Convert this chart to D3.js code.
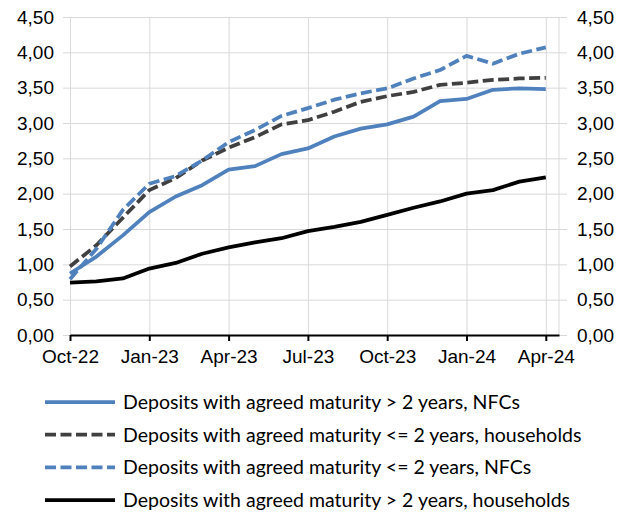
<!DOCTYPE html>
<html lang="en">
<head>
    <script src="https://d3js.org/d3.v7.min.js"></script>
    <style>
        body {
            margin: 0;
            background: #fff;
            font-family: Lato, 'Noto Sans', Arial, sans-serif;
        }
        .grid line {
            stroke: #d9d9d9;
            stroke-width: 1px;
        }
        .grid path {
            display: none;
        }
        .axis text {
            font-size: 19px;
            fill: #000;
        }
        .legend text {
            font-size: 19.5px;
            fill: #000;
        }
    </style>
</head>
<body>
<script>
    // months Oct-22 .. Apr-24
    var months = ["Oct-22","Nov-22","Dec-22","Jan-23","Feb-23","Mar-23","Apr-23","May-23","Jun-23",
                  "Jul-23","Aug-23","Sep-23","Oct-23","Nov-23","Dec-23","Jan-24","Feb-24","Mar-24","Apr-24"];
    var xTickLabels = ["Oct-22","Jan-23","Apr-23","Jul-23","Oct-23","Jan-24","Apr-24"];
    var yTicks = [0, 0.5, 1, 1.5, 2, 2.5, 3, 3.5, 4, 4.5];

    var nfcLong = [0.87, 1.11, 1.41, 1.74, 1.96, 2.12, 2.34, 2.39, 2.56, 2.64, 2.81, 2.92, 2.98, 3.09, 3.31, 3.34, 3.47, 3.49, 3.48];
    var hhShort = [0.97, 1.27, 1.66, 2.05, 2.22, 2.47, 2.65, 2.80, 2.98, 3.04, 3.16, 3.30, 3.38, 3.44, 3.54, 3.57, 3.61, 3.63, 3.64];
    var nfcShort = [0.79, 1.22, 1.77, 2.14, 2.25, 2.47, 2.73, 2.90, 3.10, 3.21, 3.33, 3.42, 3.49, 3.63, 3.75, 3.95, 3.84, 3.98, 4.07];
    var hhLong = [0.74, 0.76, 0.80, 0.94, 1.02, 1.15, 1.24, 1.31, 1.37, 1.47, 1.53, 1.60, 1.70, 1.80, 1.89, 2.00, 2.05, 2.17, 2.23];

    var seriesNames = ["Deposits with agreed maturity > 2 years, NFCs",
                       "Deposits with agreed maturity <= 2 years, households",
                       "Deposits with agreed maturity <= 2 years, NFCs",
                       "Deposits with agreed maturity > 2 years, households"];
    var seriesColors = ["#4f81bd", "#404040", "#4f81bd", "#000000"];
    var seriesDash = [null, "11,4.5", "11,4.5", null];
    var seriesValues = [nfcLong, hhShort, nfcShort, hhLong];
    // draw order: back to front
    var drawOrder = [3, 0, 1, 2];

    var width = 627, height = 513;
    var plot = {left: 70, right: 559, top: 17, bottom: 335};

    var svg = d3.select("body").append("svg")
        .attr("width", width)
        .attr("height", height);

    var x = d3.scaleLinear()
        .domain([0, months.length - 0.5])
        .range([plot.left, plot.right]);

    var y = d3.scaleLinear()
        .domain([0, 4.5])
        .range([plot.bottom, plot.top]);

    var fmt = function(d) { return d3.format(".2f")(d).replace(".", ","); };
    var xTickIdx = xTickLabels.map(function(l) { return months.indexOf(l); });

    // horizontal grid (extends a bit past the plot on both sides)
    svg.append("g")
        .attr("class", "grid")
        .attr("transform", "translate(" + (plot.left - 7) + ",0)")
        .call(d3.axisLeft(y).tickValues(yTicks).tickSize(-(plot.right - plot.left + 15)).tickFormat(""));

    // vertical grid
    svg.append("g")
        .attr("class", "grid")
        .attr("transform", "translate(0," + plot.top + ")")
        .call(d3.axisBottom(x).tickValues(xTickIdx).tickSize(plot.bottom - plot.top).tickFormat(""));

    // right border of plot area
    svg.append("line")
        .attr("x1", plot.right).attr("x2", plot.right)
        .attr("y1", plot.top).attr("y2", plot.bottom)
        .attr("stroke", "#d9d9d9");

    // y labels left and right
    svg.append("g")
        .attr("class", "axis")
        .attr("transform", "translate(" + (plot.left - 7) + ",0)")
        .call(d3.axisLeft(y).tickValues(yTicks).tickSize(0).tickPadding(9).tickFormat(fmt))
        .call(function(g) { g.select(".domain").remove(); });

    svg.append("g")
        .attr("class", "axis")
        .attr("transform", "translate(" + (plot.right + 8) + ",0)")
        .call(d3.axisRight(y).tickValues(yTicks).tickSize(0).tickPadding(10).tickFormat(fmt))
        .call(function(g) { g.select(".domain").remove(); });

    // x axis
    svg.append("g")
        .attr("class", "axis")
        .attr("transform", "translate(0," + plot.bottom + ")")
        .call(d3.axisBottom(x).tickValues(xTickIdx).tickSizeInner(6).tickSizeOuter(0).tickPadding(9)
            .tickFormat(function(d) { return months[d]; }))
        .call(function(g) {
            g.select(".domain").attr("stroke", "#000").attr("stroke-width", 2);
            g.selectAll(".tick line").attr("stroke", "#000").attr("stroke-width", 2);
        });

    // lines
    var line = d3.line()
        .x(function(d, i) { return x(i); })
        .y(function(d) { return y(d); });

    drawOrder.forEach(function(k) {
        svg.append("path")
            .datum(seriesValues[k])
            .attr("fill", "none")
            .attr("stroke", seriesColors[k])
            .attr("stroke-width", 3.75)
            .attr("stroke-dasharray", seriesDash[k])
            .attr("stroke-linejoin", "round")
            .attr("d", line);
    });

    // legend
    var legend = svg.append("g").attr("class", "legend");
    var rows = legend.selectAll("g")
        .data(seriesNames)
        .enter().append("g")
        .attr("transform", function(d, i) { return "translate(45," + (402 + i * 32.7) + ")"; });

    rows.append("line")
        .attr("x1", 0).attr("x2", 70)
        .attr("stroke", function(d, i) { return seriesColors[i]; })
        .attr("stroke-width", 3.75)
        .attr("stroke-dasharray", function(d, i) { return seriesDash[i]; });

    rows.append("text")
        .attr("x", 78)
        .attr("dy", "0.35em")
        .text(function(d) { return d; });
</script>
</body>
</html>
